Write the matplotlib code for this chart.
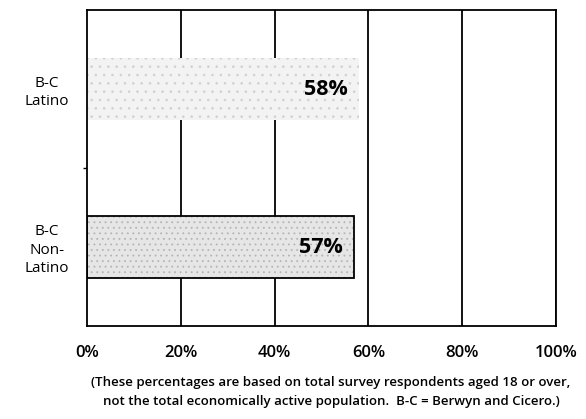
import matplotlib
matplotlib.use("Agg")
import matplotlib.pyplot as plt

categories = ["B-C\nNon-\nLatino", "B-C\nLatino"]
values = [57, 58]
value_labels = ["57%", "58%"]
xticks = [0, 20, 40, 60, 80, 100]
xtick_labels = ["0%", "20%", "40%", "60%", "80%", "100%"]
footnote = ("(These percentages are based on total survey respondents aged 18 or over,\n"
            "not the total economically active population.  B-C = Berwyn and Cicero.)")

plt.rcParams['font.family'] = ['Open Sans', 'DejaVu Sans']
plt.rcParams['hatch.color'] = '#bdbdbd'
plt.rcParams['hatch.linewidth'] = 0.6

fig = plt.figure(figsize=(5.86, 4.19), dpi=100)
ax = fig.add_axes([87/586, 1-326/419, 469/586, 316/419])

ax.set_xlim(0, 100)
ax.set_ylim(-0.5, 1.5)

for x in xticks[1:]:
    ax.axvline(x, color='black', lw=1.3, zorder=1)

ypos = [0, 1]
bh = 0.39
# Non-Latino: outlined stippled bar
ax.barh(ypos[0], values[0], height=bh, color='#e6e6e6', edgecolor='none', zorder=2)
ax.barh(ypos[0], values[0], height=bh, color='none', edgecolor='#b5b5b5',
        lw=0, hatch='...', zorder=2.2)
ax.barh(ypos[0], values[0], height=bh, color='none', edgecolor='black',
        lw=1.3, zorder=2.5)
# Latino: faded stippled bar without outline
ax.barh(ypos[1], values[1], height=bh, color='#f3f3f3', edgecolor='none', zorder=2)
ax.barh(ypos[1], values[1], height=bh, color='none', edgecolor='#d0d0d0',
        lw=0, hatch='..', zorder=2.2)

for y, v, lab in zip(ypos, values, value_labels):
    ax.text(v - 2.4, y, lab, ha='right', va='center', fontsize=15.5,
            fontweight='bold', zorder=3)

for y, lab in zip(ypos, categories):
    ax.text(-0.085, y - 0.02, lab, transform=ax.get_yaxis_transform(), ha='center',
            va='center', fontsize=11, linespacing=1.3)

ax.set_xticks(xticks)
ax.set_xticklabels(xtick_labels, fontsize=12, fontweight='semibold')
ax.tick_params(axis='x', length=0, pad=14)
ax.set_yticks([0.5])
ax.set_yticklabels([])
ax.tick_params(axis='y', length=3, width=1, direction='out')

for s in ax.spines.values():
    s.set_linewidth(1.3)
    s.set_color('black')

fig.text(331/586, 1-392/419, footnote, ha='center', va='center', fontsize=9.5,
         fontweight='semibold', linespacing=1.6)

fig.savefig("out.png", dpi=100)
